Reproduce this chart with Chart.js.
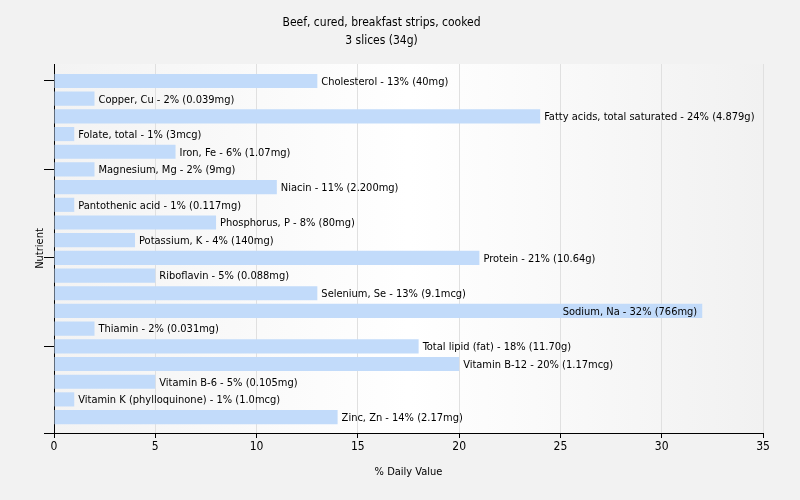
<!DOCTYPE html>
<html><head><meta charset="utf-8">
<script src="https://cdn.jsdelivr.net/npm/chart.js@4"></script>
<style>html,body{margin:0;padding:0;background:#f2f2f2;}#wrap{width:800px;height:500px;}</style>
</head><body><div id="wrap"><canvas id="c" width="800" height="500"></canvas></div>
<script>
const titleLines = ["Beef, cured, breakfast strips, cooked", "3 slices (34g)"];
const categories = ["Cholesterol","Copper, Cu","Fatty acids, total saturated","Folate, total","Iron, Fe","Magnesium, Mg","Niacin","Pantothenic acid","Phosphorus, P","Potassium, K","Protein","Riboflavin","Selenium, Se","Sodium, Na","Thiamin","Total lipid (fat)","Vitamin B-12","Vitamin B-6","Vitamin K (phylloquinone)","Zinc, Zn"];
const values = [13,2,24,1,6,2,11,1,8,4,21,5,13,32,2,18,20,5,1,14];
const amounts = ["40mg","0.039mg","4.879g","3mcg","1.07mg","9mg","2.200mg","0.117mg","80mg","140mg","10.64g","0.088mg","9.1mcg","766mg","0.031mg","11.70g","1.17mcg","0.105mg","1.0mcg","2.17mg"];
const xTicks = [0,5,10,15,20,25,30,35];
const yTickIdx = [0,5,10,15,19.9];
const FONT = "Tahoma, 'DejaVu Sans Condensed', 'Liberation Sans', sans-serif";

const points = values.map((v,i)=>({x:v, y:i}));

const bgPlugin = {
  id:'bg',
  beforeDraw(chart){
    const {ctx, chartArea:a} = chart;
    ctx.save();
    ctx.fillStyle = '#f2f2f2';
    ctx.fillRect(0,0,chart.width,chart.height);
    const g = ctx.createLinearGradient(a.left,0,a.right,0);
    g.addColorStop(0,'#f3f3f3');
    g.addColorStop(0.5,'#ffffff');
    g.addColorStop(1,'#f1f1f1');
    ctx.fillStyle = g;
    ctx.fillRect(a.left,a.top,a.right-a.left,a.bottom-a.top);
    ctx.restore();
  }
};
const labelPlugin = {
  id:'labels',
  afterDatasetsDraw(chart){
    const {ctx, chartArea:a} = chart;
    const meta = chart.getDatasetMeta(0);
    ctx.save();
    ctx.font = "11px " + FONT;
    ctx.fillStyle = '#000';
    ctx.textBaseline = 'middle';
    meta.data.forEach((bar,i)=>{
      const txt = categories[i] + " - " + values[i] + "% (" + amounts[i] + ")";
      const w = ctx.measureText(txt).width;
      if (bar.x + 4 + w > a.right) {
        ctx.textAlign = 'right';
        ctx.fillText(txt, bar.x - 5, bar.y + 1);
      } else {
        ctx.textAlign = 'left';
        ctx.fillText(txt, bar.x + 4, bar.y + 1);
      }
    });
    ctx.restore();
  }
};

new Chart(document.getElementById('c'), {
  type:'bar',
  data:{ datasets:[{ data: points, backgroundColor:'#c2dbfa', borderWidth:0, barPercentage:0.8, categoryPercentage:1.0 }]},
  options:{
    indexAxis:'y',
    responsive:false,
    animation:false,
    layout:{padding:{left:0,right:37,top:0,bottom:0}},
    plugins:{
      legend:{display:false},
      tooltip:{enabled:false},
      title:{display:true, text:titleLines, color:'#000', font:{family:FONT,size:12,weight:'normal',lineHeight:1.5}, padding:{top:14,bottom:14}}
    },
    scales:{
      x:{
        type:'linear',
        min:0,max:35,
        afterBuildTicks(s){ s.ticks = xTicks.map(v=>({value:v})); },
        afterFit(s){ s.height = 67; },
        border:{color:'#000',width:1},
        grid:{color:'#e0e0e0', tickColor:'#000', tickLength:5},
        ticks:{color:'#000', font:{family:FONT,size:12}, padding:2},
        title:{display:true,text:'% Daily Value',color:'#000',font:{family:FONT,size:11},padding:{top:0,bottom:21}}
      },
      y:{
        type:'linear',
        reverse:true,
        offset:false,
        bounds:'data',
        min:-0.96, max:19.9,
        afterBuildTicks(s){ s.ticks = yTickIdx.map(v=>({value:v})); },
        afterFit(s){ s.width = 54; },
        border:{color:'#000',width:1},
        grid:{drawOnChartArea:false, offset:false, tickLength:10, tickColor:'#000'},
        ticks:{callback:()=>'', autoSkip:false},
        title:{display:true,text:'Nutrient',color:'#000',font:{family:FONT,size:11},padding:{top:34,bottom:0}}
      }
    }
  },
  plugins:[bgPlugin,labelPlugin]
});
</script></body></html>
